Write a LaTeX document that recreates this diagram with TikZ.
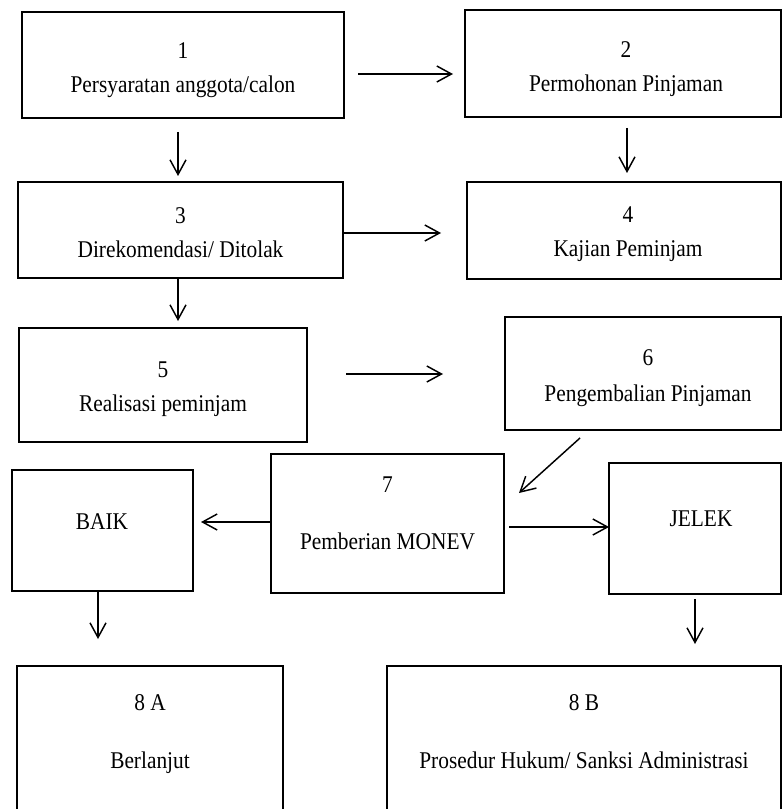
\documentclass[tikz,border=0pt]{standalone}
\usepackage{fontspec}
\setmainfont{Liberation Serif}[FakeStretch=0.89]
\usetikzlibrary{positioning,arrows.meta,fit}
\tikzset{
  flowarrow/.style={-{Straight Barb[length=11pt,width=12pt]}, line width=1.1pt},
  stepbox/.style={draw, line width=1.5pt, inner sep=0pt},
  boxtext/.style={align=center, inner sep=0pt, anchor=north, font={\fontsize{18}{25.5}\selectfont}}
}
\begin{document}
\begin{tikzpicture}[x=0.75pt, y=-0.75pt]
  \clip (0,0) rectangle (782,809);
  % boxes
  \node[stepbox, fit={(22,12) (344,118)}] (b1) {};
  \node[stepbox, fit={(465,10) (781,117)}] (b2) {};
  \node[stepbox, fit={(18,182) (343,278)}] (b3) {};
  \node[stepbox, fit={(467,182) (781,279)}] (b4) {};
  \node[stepbox, fit={(19,328) (307,442)}] (b5) {};
  \node[stepbox, fit={(505,317) (781,430)}] (b6) {};
  \node[stepbox, fit={(271,454) (504,593)}] (b7) {};
  \node[stepbox, fit={(12,470) (193,591)}] (baik) {};
  \node[stepbox, fit={(609,463) (781,594)}] (jelek) {};
  \node[stepbox, fit={(17,666) (283,815)}] (b8a) {};
  \node[stepbox, fit={(387,666) (781,815)}] (b8b) {};
  % texts
  \node[boxtext] (t1) at (183,42) {1\\Persyaratan anggota/calon};
  \node[boxtext] (t2) at (626,41) {2\\Permohonan Pinjaman};
  \node[boxtext] (t3) at (180.5,207) {3\\Direkomendasi/ Ditolak};
  \node[boxtext] (t4) at (628,206) {4\\Kajian Peminjam};
  \node[boxtext] (t5) at (163,362) {5\\Realisasi peminjam};
  \node[boxtext] (t6) at (648,349) {6\\[2pt]Pengembalian Pinjaman};
  \node[boxtext] (t7) at (387.5,477) {7\\[17pt]Pemberian MONEV};
  \node[boxtext] (tbaik) at (102,513) {BAIK};
  \node[boxtext] (tjelek) at (701,511) {JELEK};
  \node[boxtext] (t8a) at (150,694) {8 A\\[18pt]Berlanjut};
  \node[boxtext] (t8b) at (584,694) {8 B\\[18pt]Prosedur Hukum/ Sanksi Administrasi};
  % arrows
  \draw[flowarrow] (b1.east) ++(13,9) -- ++(95,0);
  \draw[flowarrow] (b1.south) ++(-5,13) -- ++(0,44);
  \draw[flowarrow] (b2.south) ++(4,10) -- ++(0,45);
  \draw[flowarrow] (b3.east) ++(0,3) -- ++(97,0);
  \draw[flowarrow] (b3.south) ++(-2.5,0) -- ++(0,42);
  \draw[flowarrow] (b5.east) ++(38,-11) -- ++(97,0);
  \draw[flowarrow] (b6.south) ++(-63,7) -- ++(-61,55);
  \draw[flowarrow] (b7.west) ++(0,-1.5) -- ++(-69,0);
  \draw[flowarrow] (b7.east) ++(4,3.5) -- ++(100,0);
  \draw[flowarrow] (baik.south) ++(-4.5,0) -- ++(0,47);
  \draw[flowarrow] (jelek.south) ++(0,4) -- ++(0,45);
\end{tikzpicture}
\end{document}
